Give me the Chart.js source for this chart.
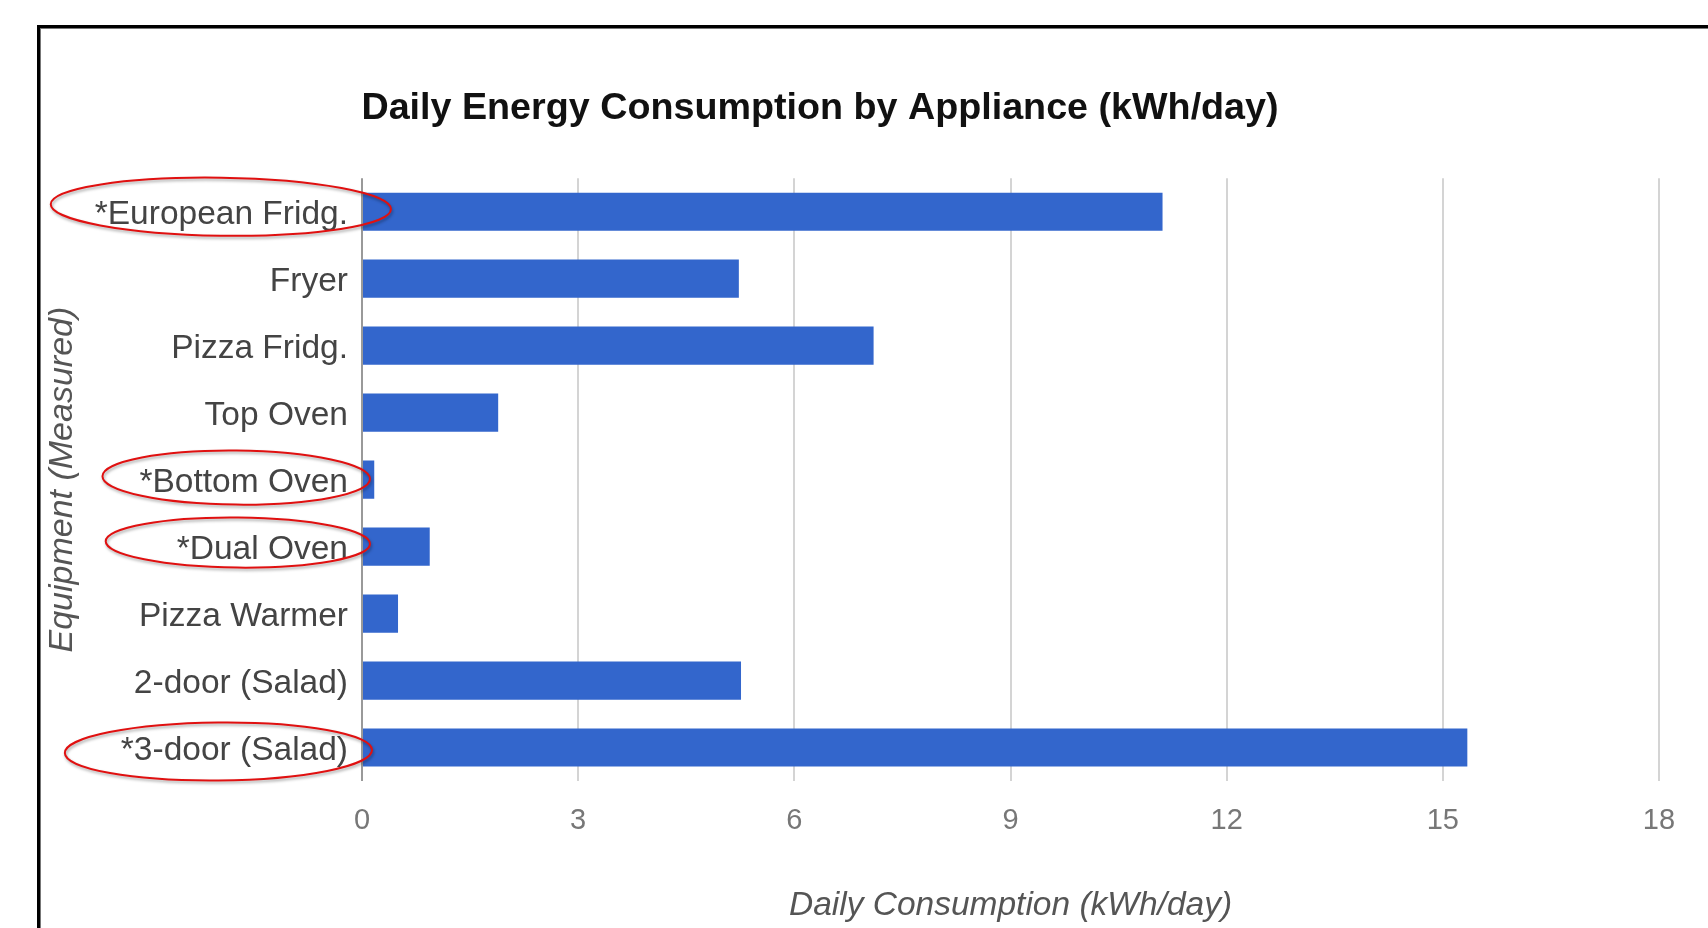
<!DOCTYPE html>
<html>
<head>
<meta charset="utf-8">
<script src="https://cdn.jsdelivr.net/npm/chart.js@4.4.1/dist/chart.umd.min.js"></script>
<style>
  html, body { margin: 0; padding: 0; background: #fff; overflow: hidden; }
  body { width: 1708px; height: 928px; position: relative; }
  #frame {
    position: absolute; left: 37px; top: 25px; right: -10px; bottom: -10px;
    border-top: 3px solid #000; border-left: 3px solid #000;
    box-shadow: inset 1px 1px 0 #777;
  }
  #wrap { position: absolute; left: -40px; top: 0; width: 1741px; height: 928px; }
</style>
</head>
<body>
<div id="frame"></div>
<div id="wrap"><canvas id="chart"></canvas></div>
<script>
// equipment names and measured kWh/day
const equipment = ['*European Fridg.', 'Fryer', 'Pizza Fridg.', 'Top Oven', '*Bottom Oven',
  '*Dual Oven', 'Pizza Warmer', '2-door (Salad)', '*3-door (Salad)'];
const dailyKwh = [11.11, 5.23, 7.10, 1.89, 0.17, 0.94, 0.50, 5.26, 15.34];
const xTicks = [0, 3, 6, 9, 12, 15, 18];

// red circles drawn round some labels (padding round the label text, in px)
const circled = [
  { label: '*European Fridg.', padL: 44, padR: 43, dy: -5, ry: 29, rot: 0.015 },
  { label: '*Bottom Oven', padL: 37, padR: 22, dy: -2, ry: 27, rot: 0.01 },
  { label: '*Dual Oven', padL: 71, padR: 22, dy: -4, ry: 25, rot: 0.01 },
  { label: '*3-door (Salad)', padL: 56, padR: 24, dy: 4, ry: 29, rot: -0.01 }
];

const FONT = 'Arial, "Liberation Sans", sans-serif';
const labelFont = { family: FONT, size: 33.5 };
const labelPad = 14;

const ellipses = {
  id: 'ellipses',
  afterDraw(chart) {
    const ctx = chart.ctx;
    const y = chart.scales.y;
    ctx.save();
    ctx.font = `${labelFont.size}px ${labelFont.family}`;
    const right = y.right - labelPad;
    circled.forEach(c => {
      const i = equipment.indexOf(c.label);
      if (i < 0) return;
      const w = ctx.measureText(c.label).width;
      const x0 = right - w - c.padL, x1 = right + c.padR;
      const cy = y.getPixelForValue(i) + c.dy;
      ctx.beginPath();
      ctx.ellipse((x0 + x1) / 2, cy, (x1 - x0) / 2, c.ry, c.rot, 0, Math.PI * 2);
      ctx.shadowColor = 'rgba(0,0,0,0.35)';
      ctx.shadowBlur = 3;
      ctx.shadowOffsetX = 1;
      ctx.shadowOffsetY = 2;
      ctx.strokeStyle = '#e01010';
      ctx.lineWidth = 2;
      ctx.stroke();
    });
    ctx.restore();
  }
};

new Chart(document.getElementById('chart'), {
  type: 'bar',
  data: {
    labels: equipment,
    datasets: [{
      data: dailyKwh,
      backgroundColor: '#3366CC',
      borderWidth: 0,
      barPercentage: 0.57,
      categoryPercentage: 1
    }]
  },
  options: {
    indexAxis: 'y',
    responsive: true,
    maintainAspectRatio: false,
    animation: false,
    layout: { padding: { left: 21, right: 42, top: 0, bottom: 0 } },
    plugins: {
      legend: { display: false },
      tooltip: { enabled: false },
      title: {
        display: true,
        text: 'Daily Energy Consumption by Appliance (kWh/day)',
        color: '#111',
        font: { family: FONT, size: 37.7, weight: 'bold' },
        padding: { top: 86, bottom: 47 }
      }
    },
    scales: {
      x: {
        min: 0, max: 18,
        afterBuildTicks: s => { s.ticks = xTicks.map(v => ({ value: v })); },
        afterFit: s => { s.height = 147; },
        grid: {
          drawTicks: false,
          lineWidth: 2,
          color: c => c.tick && c.tick.value === 0 ? '#999' : '#d4d4d4'
        },
        border: { display: false },
        ticks: {
          padding: 23,
          color: '#777',
          font: { family: FONT, size: 29 }
        },
        title: {
          display: true,
          text: 'Daily Consumption (kWh/day)',
          color: '#555',
          font: { family: FONT, size: 33.5, style: 'italic' },
          padding: { top: 0, bottom: 2 }
        }
      },
      y: {
        afterFit: s => { s.width = 381; },
        grid: { display: false, drawTicks: false },
        border: { display: false },
        ticks: {
          padding: labelPad,
          labelOffset: 3,
          color: '#444',
          font: labelFont
        },
        title: {
          display: true,
          text: 'Equipment (Measured)',
          color: '#555',
          font: { family: FONT, size: 34, style: 'italic' },
          padding: { top: 61, bottom: 0 }
        }
      }
    }
  },
  plugins: [ellipses]
});
</script>
</body>
</html>
